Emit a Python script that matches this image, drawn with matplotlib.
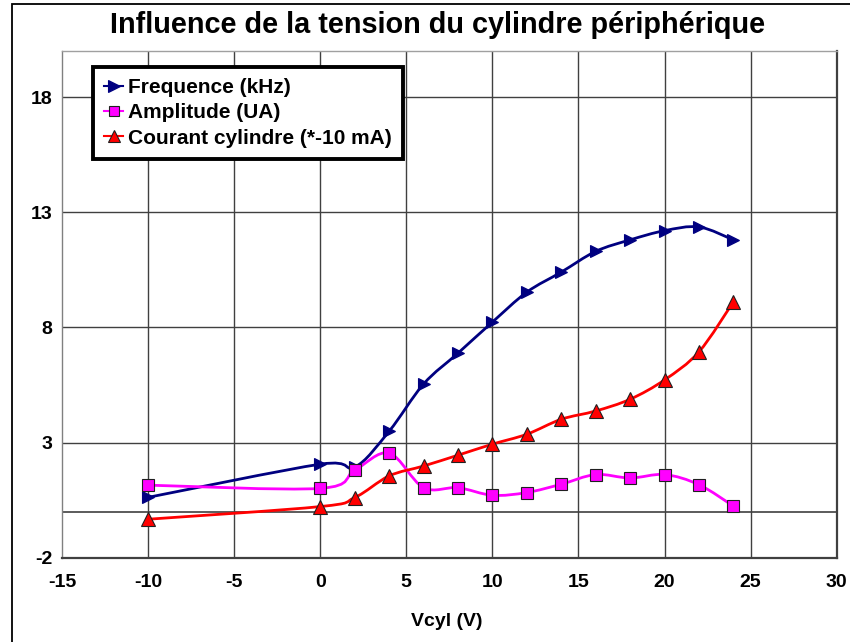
import matplotlib
matplotlib.use("Agg")
import matplotlib.pyplot as plt
from matplotlib.path import Path
from matplotlib.patches import PathPatch, Rectangle
from matplotlib.lines import Line2D
import numpy as np

plt.rcParams['font.family'] = ['Liberation Sans', 'DejaVu Sans']
plt.rcParams['axes.unicode_minus'] = False

# Data
vcyl = [-10, 0, 2, 4, 6, 8, 10, 12, 14, 16, 18, 20, 22, 24]
frequence = [0.62, 2.06, 1.93, 3.49, 5.54, 6.88, 8.23, 9.53, 10.4, 11.3, 11.8, 12.2, 12.36, 11.8]
amplitude = [1.15, 1.01, 1.8, 2.54, 1.04, 1.04, 0.71, 0.83, 1.19, 1.61, 1.46, 1.61, 1.17, 0.24]
courant = [-0.33, 0.22, 0.61, 1.55, 1.98, 2.45, 2.93, 3.36, 4.01, 4.37, 4.88, 5.72, 6.94, 9.11]

x_ticks = [-15, -10, -5, 0, 5, 10, 15, 20, 25, 30]
y_ticks = [-2, 3, 8, 13, 18]

title = "Influence de la tension du cylindre périphérique"
xlabel = "Vcyl (V)"
labels = ["Frequence (kHz)", "Amplitude (UA)", "Courant cylindre (*-10 mA)"]


def smooth_path(xs, ys):
    """Catmull-Rom style Bezier path through the points (spreadsheet 'smoothed line')."""
    pts = np.column_stack([xs, ys]).astype(float)
    n = len(pts)
    verts = [pts[0]]
    codes = [Path.MOVETO]
    for i in range(n - 1):
        p0 = pts[i - 1] if i > 0 else pts[i]
        p1 = pts[i]
        p2 = pts[i + 1]
        p3 = pts[i + 2] if i + 2 < n else pts[i + 1]
        c1 = p1 + (p2 - p0) / 6.0
        c2 = p2 - (p3 - p1) / 6.0
        verts += [c1, c2, p2]
        codes += [Path.CURVE4] * 3
    return Path(verts, codes)


fig = plt.figure(figsize=(8.5, 6.42), dpi=100)
fig.patch.set_facecolor('white')

# outer frame of the chart
fig.patches.append(Rectangle((12 / 850, -0.05), 1.2, 1 - 4 / 642 + 0.05,
                             transform=fig.transFigure, fill=False,
                             edgecolor='black', linewidth=1.3))

ax = fig.add_axes([62 / 850, 1 - 557.7 / 642, (836.7 - 62) / 850, (557.7 - 51) / 642])
ax.set_xlim(-15, 30)
ax.set_ylim(-2, 20)
ax.set_xticks(x_ticks)
ax.set_yticks(y_ticks)
ax.tick_params(length=0, labelsize=14)
ax.tick_params(axis='x', pad=11.5)
ax.tick_params(axis='y', pad=7)
for lab in ax.get_xticklabels() + ax.get_yticklabels():
    lab.set_fontweight('bold')

grid_c = '#404040'
for xv in x_ticks[1:-1]:
    ax.axvline(xv, color=grid_c, lw=1.0, zorder=1)
for yv in y_ticks[1:]:
    ax.axhline(yv, color=grid_c, lw=1.0, zorder=1)
ax.axhline(0, color=grid_c, lw=1.2, zorder=1)

ax.spines['left'].set_color('#808080')
ax.spines['top'].set_color('#a0a0a0')
ax.spines['right'].set_color('#404040')
ax.spines['bottom'].set_color('#404040')
ax.spines['right'].set_linewidth(1.6)
ax.spines['bottom'].set_linewidth(1.6)
ax.spines['left'].set_linewidth(1.0)
ax.spines['top'].set_linewidth(1.0)

series = [
    (frequence, '#000080', '>', '#000080', '#000080', 9),
    (amplitude, '#FF00FF', 's', '#FF00FF', '#202020', 8),
    (courant, '#FF0000', '^', '#FF0000', '#202020', 10),
]

handles = []
for (ys, col, mk, fc, ec, ms), lab in zip(series, labels):
    ax.add_patch(PathPatch(smooth_path(vcyl, ys), facecolor='none', edgecolor=col,
                           lw=2.0, zorder=3))
    ax.plot(vcyl, ys, linestyle='none', marker=mk, markersize=ms,
            markerfacecolor=fc, markeredgecolor=ec, markeredgewidth=0.8, zorder=4)
    handles.append(Line2D([], [], color=col, lw=1.5, marker=mk, markersize=ms - 1,
                          markerfacecolor=fc, markeredgecolor=ec, markeredgewidth=0.8))

leg = ax.legend(handles, labels, loc='upper left', bbox_to_anchor=(30.7 / 774.7, 1 - 16 / 506.7),
                frameon=True, fancybox=False, framealpha=1, edgecolor='black',
                prop={'weight': 'bold', 'size': 15}, handlelength=0.9,
                handletextpad=0.25, borderpad=0.55, labelspacing=0.29, borderaxespad=0)
leg.get_frame().set_linewidth(2.8)
leg.set_zorder(6)

fig.text(447 / 850, 1 - 621 / 642, xlabel, ha='center', va='center',
         fontsize=14, fontweight='bold')
fig.text(438 / 850, 1 - 25 / 642, title, ha='center', va='center',
         fontsize=20.8, fontweight='bold')

fig.savefig('out.png', dpi=100, facecolor='white')
